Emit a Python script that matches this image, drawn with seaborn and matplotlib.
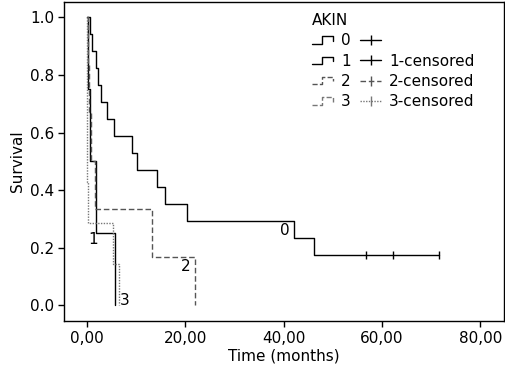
import pandas as pd
import matplotlib.pyplot as plt
import seaborn as sns
from matplotlib.lines import Line2D
from matplotlib.legend_handler import HandlerBase

# Kaplan-Meier step values (time in months, survival)
t0 = [0, 0.7, 1.0, 1.8, 2.2, 2.8, 4.1, 5.6, 9.1, 10.2, 14.2, 15.9, 20.3, 42.2, 46.1, 71.5]
s0 = [1.0, 0.941, 0.882, 0.824, 0.765, 0.706, 0.647, 0.588, 0.529, 0.471, 0.412, 0.353, 0.294, 0.235, 0.176, 0.176]
cens0_t = [56.8, 62.3, 71.5]
cens0_s = [0.176, 0.176, 0.176]

t1 = [0, 0.2, 0.6, 1.9, 5.8]
s1 = [1.0, 0.75, 0.5, 0.25, 0.0]

t2 = [0, 0.3, 0.5, 0.8, 1.7, 13.2, 21.9]
s2 = [1.0, 0.833, 0.667, 0.5, 0.333, 0.167, 0.0]

t3 = [0, 0.1, 0.35, 5.3, 6.6]
s3 = [1.0, 0.429, 0.286, 0.143, 0.0]

groups = ['0', '1', '2', '3']
times = [t0, t1, t2, t3]
survs = [s0, s1, s2, s3]
colors = ['black', 'black', '#555555', '#777777']
styles = ['-', '-', (0, (4, 2)), (0, (1, 1))]

# curve labels placed inside the plot
lab_t = [40.3, 1.2, 20.2, 7.8]
lab_s = [0.26, 0.227, 0.134, 0.015]

xticks = [0, 20, 40, 60, 80]
xticklabels = ['0,00', '20,00', '40,00', '60,00', '80,00']
yticks = [0.0, 0.2, 0.4, 0.6, 0.8, 1.0]


class StepHandler(HandlerBase):
    def create_artists(self, legend, orig_handle, xdescent, ydescent,
                       width, height, fontsize, trans):
        x0 = -xdescent
        y0 = -ydescent + 0.15 * height
        xs = [x0, x0 + 0.45 * width, x0 + 0.45 * width, x0 + width, x0 + width]
        ys = [y0, y0, y0 + 0.7 * height, y0 + 0.7 * height, y0 + 0.3 * height]
        ln = Line2D(xs, ys, color=orig_handle.get_color(),
                    linestyle=orig_handle.get_linestyle(), linewidth=1, transform=trans)
        return [ln]


sns.set_style('white')
plt.rcParams['font.family'] = ['DejaVu Sans']
plt.rcParams['text.color'] = 'black'
plt.rcParams['axes.labelcolor'] = 'black'
plt.rcParams['xtick.color'] = 'black'
plt.rcParams['ytick.color'] = 'black'

fig = plt.figure(figsize=(5.05, 3.72), dpi=100)
ax = fig.add_axes([0.127, 0.137, 0.871, 0.858])

for g, t, s, c, ls in zip(groups, times, survs, colors, styles):
    sns.lineplot(x=t, y=s, ax=ax, drawstyle='steps-post', color=c,
                 linestyle=ls, linewidth=1, estimator=None, sort=False)

sns.scatterplot(x=cens0_t, y=cens0_s, ax=ax, marker='|', s=40,
                color='black', linewidth=1, zorder=5)

for g, x, y in zip(groups, lab_t, lab_s):
    ax.text(x, y, g, fontsize=11, ha='center', va='center', color='black')

ax.set_xlim(-4.6, 84.8)
ax.set_ylim(-0.055, 1.054)
ax.set_xticks(xticks)
ax.set_xticklabels(xticklabels)
ax.set_yticks(yticks)
ax.set_yticklabels([f'{v:.1f}' for v in yticks])
ax.tick_params(axis='both', direction='out', length=4, width=1, labelsize=11,
               bottom=True, left=True, colors='black', pad=3)
ax.set_xlabel('Time (months)', fontsize=11, labelpad=2)
ax.set_ylabel('Survival', fontsize=11, labelpad=4)
for sp in ax.spines.values():
    sp.set_color('black')
    sp.set_linewidth(1)

# legend: step icon + group, then censor mark + label
step_handles = [Line2D([], [], color=c, linestyle=ls) for c, ls in zip(colors, styles)]
cens_handles = [Line2D([], [], color=c, linestyle=ls, marker='|', markersize=7, linewidth=1)
                for c, ls in zip(colors, styles)]
cens_labels = ['', '1-censored', '2-censored', '3-censored']
handles = step_handles + cens_handles
labels = groups + cens_labels
handler_map = {h: StepHandler() for h in step_handles}
leg = ax.legend(handles, labels, ncol=2, title='AKIN', loc='upper left',
                bbox_to_anchor=(0.532, 1.008), frameon=False, fontsize=11,
                title_fontsize=11, handlelength=1.4, handletextpad=0.5,
                columnspacing=0.6, labelspacing=0.35, alignment='left',
                handler_map=handler_map)
leg.get_title().set_color('black')

fig.savefig('out.png', dpi=100)
